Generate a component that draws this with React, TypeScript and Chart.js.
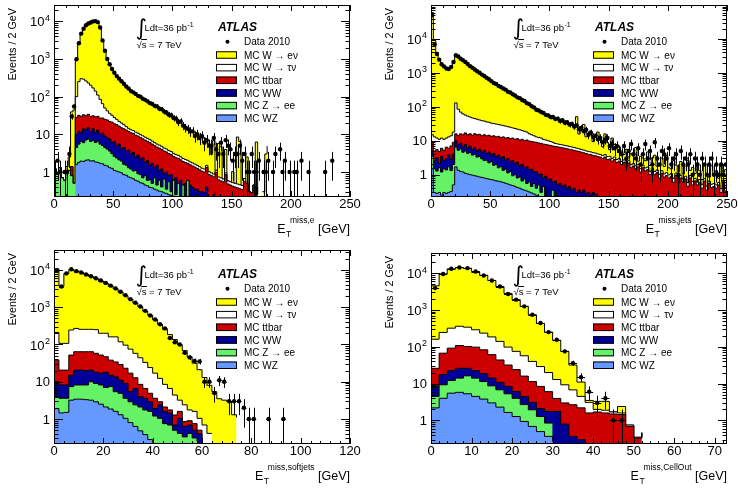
import { useEffect, useRef } from "react";
import { Chart, registerables } from "chart.js";

Chart.register(...registerables);

const FONT = '"Liberation Sans", Arial, Helvetica, sans-serif';

// ---- E_T^miss,e : 2 GeV bins from 0 to 250 GeV ----
const eleData = [1,2,1,0,1,1,3,30,55, 980,2600,4700,6300,7800,8700,9300,9900,10100,9500, 6800,3100,1650,1000,720,540,430,350,300,255, 220,185,165,140,130,118,105,100,88,82, 75,68,64,57,55,48,46,40,38,33, 32,27,26,21,22,17,15,14,12,12, 9,10,8,9,6,7,5,5,8,4, 3,6,3,7,5,4,2,3,3,5, 2,3,1,1,3,1,1,2,0,1, 1,2,0,1,3,0,4,1,2,0, 1,0,1,1,0,2,0,0,1,0, 0,0,0,0,0,1,0,0,2];
const eleWZ = [0,0,0,0,0,0,0,0,0, 1.6,1.8,1.95,1.9,2.05,2.1,1.95,2.0,1.85,1.8, 1.7,1.65,1.5,1.45,1.3,1.25,1.1,1.05,1.0,0.95, 0.85,0.82,0.74,0.7,0.66,0.6,0.57,0.52,0.5,0.45, 0.43,0.39,0.38,0.35,0.33,0.31,0.3,0.28,0.27,0.25, 0.24,0.23,0.22,0.21,0.2,0.2,0.19,0.18,0.17,0.16];
const eleZee = [1.2,0.9,1.3,0.7,0.6,0.9,1.1,0.8,0.5, 2.9,3.7,4.5,4.1,5.0,5.4,4.5,5.0,4.2,4.7, 3.8,3.4,3.0,2.6,2.3,1.8,1.5,1.3,1.1,1.0, 0.75,0.7,0.56,0.5,0.4,0.5,0.33,0.33,0.2,0.35, 0.17,0.23,0.12,0.35,0.12,0.29,0.1,0.37,0.08,0.3, 0.06,0.37,0.03,0.29,0,0.25,0,0.42,0.03,0.24, 0,0.35,0,0.3,0,0.4,0,0,0,0.3, 0,0,0,0.35,0,0,0,0,0,0, 0,0.25];
const eleWW = [0,0,0,0,0,0,0,0,0, 5.5,6.5,4.5,8,6,7.5,5.5,7,5,6.5, 4.5,6,4.5,4,3.9,3,3.9,2.6,3.4,2.2, 2.9,2.1,2.5,1.8,2.25,1.4,1.9,1.35,1.7,1.0, 1.4,0.88,1.2,0.6,1.05,0.5,0.8,0.25,0.65,0.25, 0.55,0,0.45,0,0.4,0,0.3,0,0.25,0, 0.35,0,0.3,0,0.28,0,0.3,0,0.25];
const eleTtbar = [0,0,0,0,0,0,0,0.6,0, 18,20,19,19,18,19,18,17,18,17, 17,16,16,16,14.5,15,12.5,13,11,10.8, 9.5,9.4,8.2,8,7.2,7,6.2,6,5.2,5.2, 4.5,4.5,3.8,3.7,3.1,3.2,2.8,2.7,2.4,2.3, 2.05,2.0,1.7,1.8,1.5,1.45,1.3,1.1,1.1,1.05, 1.0,0.9,0.85,0.75,0.72,0.92,0.55,0.8,0.49,0.68, 0.62,0.58,0.55,0.5,0.48,0.45,0.42,0.4,0.38,0.36, 0.34,0.32,0.5,0.3,0.28,0.45,0.25,0.4,0,0.3, 0,0.35,0,0,0.3];
const eleWtn = [0,0,0,0,0,0,0,0,0, 72,218,270,257,229,196,170,139,111,80, 58,38,25,18,14,11,9,7,5.5,5, 4,3,2.4,2.2,2,1.9,1.7,1.6,1.5,1.4, 1.3,1.2,1.1,1.0,0.9,0.85,0.8,0.72,0.68,0.62, 0.58,0.52,0.48,0.46,0.42,0.38,0.36,0.34,0.31,0.29, 0.27,0.25,0.23,0.21,0.2,0.18,0.17,0.15,0.14,0.13, 0.12,0.12,0.1,0.1,0.1,0.1,0.1,0.1,0.1,0.1, 0.1,0.1];
const eleWen = [0,0,0,0,0,0.5,1.4,38,44, 850,2350,4500,6110,7440,8370,9100,9630,9860,9490, 6915,2935,1550,958,664,498,392,315,268,230, 197,166,145,135,121,109,98,89,81,74, 68,63,58,53,49,45,41,37.5,34,30, 27.5,25,22,19,17.5,15.7,14,12.5,11,10.3, 9.4,8.5,8.1,7.2,6.8,4.8,4.5,2,6,0, 5,4,0,3,0,0,0.5,0,8,6, 0,0,2,0,0,0,6,0,0,0, 3,4.5,0,0,0,0,1.5,0,0,1.2, 0,0,1.2,0,0,0,0,0,0,0, 0,0,0,0,3.5,0,0,0,4];

// ---- E_T^miss,jets : 2 GeV bins from 0 to 250 GeV ----
const jetData = [50000,7000,3600,2450,1800,1550,1350,1300,1500,2100, 3300,3050,2600,2350,2100,1820,1580,1420,1260,1120, 1010,890,810,720,650,570,505,470,415,385, 345,320,280,265,235,215,190,180,158,148, 128,120,104,96,82,78,70,66,58,56, 50,50,44,45,38,40,34,35,30,31, 26,28,22,24,19,21,15,17,13,14, 11,12,9,11,12,7,8,6,7,5, 4,7,3,5,8,4,3,6,2,4, 8,3,5,2,9,3,2,5,4,3, 6,2,3,4,1,5,2,3,2,4, 1,3,2,1,3,2,1,2,3,1, 2,1,2,1,2];
const jetWZ = [1.5,0.3,0.28,0.3,0.25,0.3,0.28,0.3,0.32,0.5, 1.7,1.35,1.25,1.2,1.1,1.05,1.0,0.97,0.93,0.9, 0.86,0.83,0.8,0.77,0.74,0.72,0.69,0.66,0.64,0.62, 0.59,0.56,0.53,0.5,0.48,0.45,0.42,0.4,0.37,0.35, 0.33,0.31,0.29,0.27,0.25,0.23,0.22,0.2];
const jetZee = [2.0,1.2,1.0,1.3,0.95,1.2,1.1,1.4,1.0,1.5, 4.8,3.9,4.5,3.4,3.9,3.2,3.5,2.8,3.1,2.4, 2.6,2.1,1.8,1.9,1.5,1.7,1.2,1.35,0.95,1.1, 0.75,0.9,0.6,0.75,0.45,0.55,0.38,0.45,0.28,0.4, 0.22,0.3,0.16,0.28,0.15,0.27,0.08,0.25,0.2,0.4, 0,0.35,0.2,0.3,0,0.4,0,0.3,0,0.35, 0,0,0.3,0,0,0,0.25];
const jetWW = [1.5,1.0,1.9,0.6,2.3,1.1,1.6,2.1,1.5,2.0, 3.5,2.3,2.7,1.9,2.8,1.8,2.5,1.7,2.2,1.7, 2.1,1.7,2.6,1.5,2.4,1.4,2.3,1.4,2.2,1.4, 2.05,1.25,1.85,1.15,1.65,1.1,1.5,0.95,1.35,0.85, 1.15,0.8,1.0,0.65,0.85,0.5,0.75,0.35,0.7,0.3, 0.75,0.25,0.45,0.2,0.55,0.05,0.5,0.1,0.45,0, 0.4,0.3,0.05,0.3,0.35,0.28,0.05,0.25,0.3,0.25, 0.28];
const jetTtbar = [4,2.5,2.3,2.6,2.5,2.6,3.5,2.2,4.2,5, 6,6.5,7.5,8.5,9.2,9,9,9,9.8,10, 9.9,9.4,9.8,9.8,9.9,9.7,9.8,9.6,9.7,9.4, 9.6,9.3,9.5,9.1,9.4,8.9,9.2,8.7,9.0,8.4, 8.8,8.4,8.05,8.0,7.75,7.6,7.35,7.15,6.9,6.8, 6.55,6.4,6.15,6.1,5.85,5.75,5.5,5.4,5.15,5.05, 4.8,4.7,4.45,4.3,4.05,3.92,3.7,3.65,3.4,3.35, 3.12,3.3,3.0,3.3,2.8,2.9,2.5,2.8,2.3,2.5, 2.0,2.3,1.7,2.2,1.6,1.8,1.5,1.7,1.2,1.6, 1.3,1.4,1.0,1.35,1.0,1.15,0.8,1.1,0.85,0.95, 0.8,0.9,0.6,0.95,0.55,0.8,0.6,0.75,0.45,0.8, 0.5,0.65,0.5,0.6,0.4,0.65,0.35,0.55,0.42,0.45, 0.4,0.5,0.3,0.6,0.33];
const jetWtn = [6,8,6.5,6.2,6,5.8,5.5,7,7,9, 114,71,54,47,40,38,34,32.5,29,28, 25.5,25,23,22,20.5,19.5,18,18,16.5,16.5, 15,15,13.5,13.5,12,12,10.5,10.5,9,9, 7.5,6.2,5.5,4.8,4.0,3.9,3.6,3.0,2.7,2.5, 2.2,2.0,1.5,1.45,1.4,1.35,1.3,1.25,1.2,1.15, 1.1,1.05,1.0,0.95,0.9,0.85,0.8,0.78,0.74,0.72, 0.68,0.66,0.63,0.62,0.6,0.56,0.53,0.52,0.5,0.48, 0.44,0.42,0.4,0.38,0.36,0.34,0.33,0.31,0.3,0.29, 0.28,0.27,0.26,0.25,0.24,0.23,0.22,0.21,0.2,0.2, 0.19,0.18,0.18,0.17,0.16,0.16,0.15,0.15,0.14,0.14, 0.13,0.13,0.12,0.12,0.12,0.11,0.11,0.1,0.1,0.1, 0.1,0.09,0.09,0.09,0.09];
const jetWen = [59985,8987,3988,2389,1788,1489,1338,1287,1486,2182, 3170,2915,2530,2238,1993,1747,1550,1353,1205,1057, 959,861,762,684,605,527,478,429,390,351, 317,288,259,235,211,189,170,154,140,126, 112,101,90,80,71,63.5,58,53,48.5,45, 42.5,40,37.7,35,32.3,30.4,28.5,26.5,24.6,22.8, 21,45,10,15.9,25,8,11.8,15,5,8.6, 14,6.9,3,12,5.4,2,9,4.4,4.2,3.6, 2.5,1.2,3.5,0.8,2.2,1.5,4.5,0.5,2,1.2, 1,3,0.6,1.5,2.5,0.4,0.8,1.8,0.7,2.5, 0.6,0.4,1.8,0.8,0.5,1.5,0.3,0.9,2,0.4, 1,0.3,1.6,0.6,0.2,1.2,0.5,0.2,1.3,0.4, 0.8,0.2,1.4,0.5,1.0];

// ---- E_T^miss,softjets : 2 GeV bins from 0 to 120 GeV ----
const softData = [9500,3600,8100,10500,9300,8600,7600,6800,6000,5200, 4500,3800,3200,2600,2100,1650,1320,1050,800,600, 470,350,270,150,115,100,60,45,36,35, 10,10,5,11,10,3,3,3,2,1, 1,0,0,1,0,0,1];
const softWZ = [1.9,1.45,1.5,3.2,3.4,3.4,3.3,3.2,2.9,2.5, 2.1,1.85,1.6,1.3,1.04,0.8,0.63,0.48,0.38,0.28, 0.22];
const softZee = [2.1,2.15,2.1,4.2,4.8,4.8,4.9,6.8,6.1,5.7, 4.9,5.55,3.8,3.6,2.56,2.1,1.77,1.62,1.37,1.32, 0.98,1.04,0.75,0.69,0.5,0.41,0.33,0.41,0.31,0.25, 0,0,0,0,0,0,0,0,0,0, 0,0,0,0,0,0,0.33];
const softWW = [6,4.6,4.6,7.6,12.3,12.3,11.8,10.5,9,8.8, 11,7.6,8.2,6.1,5.4,2.5,4.2,1.9,1.85,1.3, 0.7,1.36,0.85,0.76,0.19,0.63,0.3,0.28,0.19,0.15, 0.25];
const softTtbar = [28,12.3,12.3,37,43.5,43.5,44,43.5,40,35, 29,23,20.4,18,14,11.6,6.2,4.5,3.0,2.0, 1.7,0.5,0.5,0.3,0.59,0.56,0.22,0.21,0.25,0.1, 0.05];
const softWtn = [172,86.5,86.5,193,206,191,191,191,192,148, 153,122,126,89,73,58,45,35.5,26.4,19.1, 13.4,9.4,6.4,4.85,3.1,1.6,1.55,0.85,0.85,0.54, 0.39,0.41,0.41,0,0,0,0.3,0,0,0.3];
const softWen = [10590,3593,7893,10055,9230,8445,7445,6545,5650,4900, 4200,3540,2940,2432,1954,1575,1242,976,757,586, 443,333,246,178,131,95,66,45,30,20, 12.3,7.6,5,3.5,3.2,3,1.0,1.1,0,0, 0,0,0,0,1.6];

// ---- E_T^miss,CellOut : 2 GeV bins from 0 to 74 GeV ----
const cellData = [3900,9400,13100,14200,13600,11000,8600,6300,4300,2700, 1900,1250,740,440,250,155,75,36,15,6, 3,4,1,1];
const cellWZ = [2.2,4.0,5.5,5.8,5.3,4.5,3.8,3.0,2.3,1.65, 1.28,0.94,0.69,0.5,0.37,0.27];
const cellZee = [2.3,5.3,6.7,8.3,11,9.6,7.6,5.7,4.5,3.65, 2.72,1.76,1.26,0.78,0.48,0.58];
const cellWW = [3.9,8.2,10.5,11.9,9.7,8.6,7.2,5.4,4.0,3.1, 2.1,1.8,1.15,0.82,0.91,0.91,0.8,0.37,0.3,0.25];
const cellTtbar = [17.6,49.5,69,82,76,75,64,47,33,23.6, 17.9,11.5,8.3,6.3,4.3,2.2,2.2,2.3,1.9,1.35, 1.7,1.6,1.5,1.45,0.69,0.33,0.45];
const cellWtn = [134,178,228,252,238,192,152,124,96,66, 51,41,28.6,20.6,13.9,9,6.3,4.1,2.3,1.5, 0.3,0.3,0.2,0.15,0.06,0.02,0.02];
const cellWen = [4340,9255,12680,13640,13160,10710,8465,6115,4160,2702, 1825,1193,700,401,230,137,65.7,25.2,6.5,0.4, 1.3,1.4,0,0.8];

// Stack order, bottom to top
const SAMPLE_COLORS = ["#6699ff", "#66f266", "#000099", "#cc0000", "#ffffff", "#ffff00"];

const LEGEND_ROWS = [
  { label: "MC W \u2192 e\u03bd", color: "#ffff00" },
  { label: "MC W \u2192 \u03c4\u03bd", color: "#ffffff" },
  { label: "MC ttbar", color: "#cc0000" },
  { label: "MC WW", color: "#000099" },
  { label: "MC Z \u2192 ee", color: "#66f266" },
  { label: "MC WZ", color: "#6699ff" },
];

type Panel = {
  data: number[];
  samples: number[][]; // WZ, Z->ee, WW, ttbar, W->tau nu, W->e nu
  nBins: number;
  binWidth: number;
  xMax: number;
  xMajor: number;
  xMinor: number;
  yMin: number;
  yMax: number;
  xSup: string;
  left: number;
  top: number;
  width: number;
  height: number;
  pad: { left: number; right: number; top: number; bottom: number };
  textDy: number;
};

const PANELS: Panel[] = [
  {
    data: eleData, samples: [eleWZ, eleZee, eleWW, eleTtbar, eleWtn, eleWen],
    nBins: 125, binWidth: 2, xMax: 250, xMajor: 50, xMinor: 10,
    yMin: 0.217, yMax: 2.7e4, xSup: "miss,e",
    left: 0, top: 0, width: 369, height: 245,
    pad: { left: 54, right: 19, top: 5, bottom: 48 }, textDy: 0,
  },
  {
    data: jetData, samples: [jetWZ, jetZee, jetWW, jetTtbar, jetWtn, jetWen],
    nBins: 125, binWidth: 2, xMax: 250, xMajor: 50, xMinor: 10,
    yMin: 0.22, yMax: 1.0e5, xSup: "miss,jets",
    left: 369, top: 0, width: 369, height: 245,
    pad: { left: 62, right: 11, top: 5, bottom: 48 }, textDy: 0,
  },
  {
    data: softData, samples: [softWZ, softZee, softWW, softTtbar, softWtn, softWen],
    nBins: 60, binWidth: 2, xMax: 120, xMajor: 20, xMinor: 4,
    yMin: 0.213, yMax: 3.44e4, xSup: "miss,softjets",
    left: 0, top: 245, width: 369, height: 244,
    pad: { left: 54, right: 19, top: 5, bottom: 45 }, textDy: 2,
  },
  {
    data: cellData, samples: [cellWZ, cellZee, cellWW, cellTtbar, cellWtn, cellWen],
    nBins: 37, binWidth: 2, xMax: 73, xMajor: 10, xMinor: 2,
    yMin: 0.23, yMax: 3.5e4, xSup: "miss,CellOut",
    left: 369, top: 245, width: 369, height: 244,
    pad: { left: 62, right: 11, top: 8, bottom: 45 }, textDy: 2,
  },
];

const font = (size: number, style = "") => `${style} ${size}px ${FONT}`.trim();

function decorations(p: Panel) {
  return {
    id: "rootStyle",
    afterDatasetsDraw(chart: any) {
      // Poisson error bars on the data points
      const ctx: CanvasRenderingContext2D = chart.ctx;
      const { left, right, top, bottom } = chart.chartArea;
      const xs = chart.scales.x;
      const ys = chart.scales.y;
      ctx.save();
      ctx.beginPath();
      ctx.rect(left, top, right - left, bottom - top);
      ctx.clip();
      ctx.strokeStyle = "#000";
      ctx.lineWidth = 1;
      ctx.beginPath();
      p.data.forEach((v, i) => {
        if (!(v > 0)) return;
        const err = Math.sqrt(v);
        const xc = Math.round(xs.getPixelForValue((i + 0.5) * p.binWidth)) + 0.5;
        const y = Math.round(ys.getPixelForValue(v)) + 0.5;
        const lo = v - err > 0 ? ys.getPixelForValue(v - err) : bottom + 2;
        const hi = ys.getPixelForValue(v + err);
        ctx.moveTo(xc, lo);
        ctx.lineTo(xc, hi);
        ctx.moveTo(xs.getPixelForValue(i * p.binWidth), y);
        ctx.lineTo(xs.getPixelForValue((i + 1) * p.binWidth), y);
      });
      ctx.stroke();
      ctx.restore();
    },
    afterDraw(chart: any) {
      const ctx: CanvasRenderingContext2D = chart.ctx;
      const { left, right, top, bottom } = chart.chartArea;
      const xs = chart.scales.x;
      const ys = chart.scales.y;
      ctx.save();
      ctx.strokeStyle = "#000";
      ctx.fillStyle = "#000";
      ctx.lineWidth = 1;

      // frame
      ctx.strokeRect(left + 0.5, top + 0.5, right - left - 1, bottom - top - 1);

      // inward ticks on all four sides
      ctx.beginPath();
      for (let k = 0; k * p.xMinor <= p.xMax + 1e-9; k++) {
        const v = k * p.xMinor;
        const major = Math.abs(v / p.xMajor - Math.round(v / p.xMajor)) < 1e-6;
        const len = major ? 6 : 3;
        const x = Math.round(xs.getPixelForValue(v)) + 0.5;
        ctx.moveTo(x, bottom);
        ctx.lineTo(x, bottom - len);
        ctx.moveTo(x, top);
        ctx.lineTo(x, top + len);
      }
      const dLo = Math.floor(Math.log10(p.yMin));
      const dHi = Math.ceil(Math.log10(p.yMax));
      for (let d = dLo; d <= dHi; d++) {
        for (let m = 1; m <= 9; m++) {
          const v = m * Math.pow(10, d);
          if (v < p.yMin || v > p.yMax) continue;
          const y = Math.round(ys.getPixelForValue(v)) + 0.5;
          const len = m === 1 ? 9 : 4.5;
          ctx.moveTo(left, y);
          ctx.lineTo(left + len, y);
          ctx.moveTo(right, y);
          ctx.lineTo(right - len, y);
        }
      }
      ctx.stroke();

      // x tick labels
      ctx.font = font(13);
      ctx.textAlign = "center";
      ctx.textBaseline = "alphabetic";
      for (let v = 0; v <= p.xMax + 1e-9; v += p.xMajor) {
        ctx.fillText(String(v), xs.getPixelForValue(v), bottom + 11);
      }

      // y tick labels (decades well inside the frame)
      ctx.textAlign = "right";
      for (let d = Math.ceil(Math.log10(p.yMin)); Math.pow(10, d) <= p.yMax * 0.9; d++) {
        const y = ys.getPixelForValue(Math.pow(10, d));
        const xr = left - 4;
        if (d < 2) {
          ctx.font = font(13);
          ctx.fillText(d === 0 ? "1" : "10", xr, y + 4.7);
        } else {
          ctx.font = font(9);
          const sw = ctx.measureText(String(d)).width;
          ctx.fillText(String(d), xr, y - 0.5);
          ctx.font = font(13);
          ctx.fillText("10", xr - sw - 0.5, y + 5.2);
        }
      }

      // x axis title: E_T^{miss,...} [GeV]
      const base = bottom + 36;
      ctx.textAlign = "left";
      ctx.font = font(12.5);
      const wE = ctx.measureText("E").width;
      const wRest = ctx.measureText(" [GeV]").width;
      ctx.font = font(8.5);
      const wSup = ctx.measureText(p.xSup).width;
      const x0 = right - (wE + 4.5 + wSup + wRest);
      ctx.font = font(12.5);
      ctx.fillText("E", x0, base);
      ctx.font = font(8.5);
      ctx.fillText("T", x0 + wE + 0.5, base + 3.5);
      ctx.fillText(p.xSup, x0 + wE + 4.5, base - 10);
      ctx.font = font(12.5);
      ctx.fillText(" [GeV]", x0 + wE + 4.5 + wSup, base);

      // y axis title
      ctx.save();
      ctx.translate(left - 41.3, top + 3);
      ctx.rotate(-Math.PI / 2);
      ctx.textAlign = "right";
      ctx.textBaseline = "middle";
      ctx.font = font(10.8);
      ctx.fillText("Events / 2 GeV", 0, 0);
      ctx.restore();

      // luminosity and energy
      const dy = p.textDy;
      const ix = left + 82.5;
      ctx.textAlign = "left";
      ctx.font = `22px "DejaVu Sans", ${FONT}`;
      ctx.fillText("\u222b", ix - 1, dy + 35);
      ctx.font = font(9.5);
      ctx.fillText("Ldt=36 pb", ix + 8, dy + 31.4);
      const wL = ctx.measureText("Ldt=36 pb").width;
      ctx.font = font(7);
      ctx.fillText("-1", ix + 8 + wL + 0.5, dy + 27);
      ctx.font = font(9.5);
      ctx.fillText("\u221a", ix, dy + 47.5);
      const wR = ctx.measureText("\u221a").width;
      const wS = ctx.measureText("s").width;
      ctx.fillText("s = 7 TeV", ix + wR, dy + 47.5);
      ctx.beginPath();
      ctx.moveTo(ix + wR - 0.5, dy + 39.5);
      ctx.lineTo(ix + wR + wS + 0.5, dy + 39.5);
      ctx.stroke();

      // ATLAS label and legend
      ctx.font = font(12, "italic bold");
      ctx.fillText("ATLAS", left + 164, dy + 30.7);
      const row0 = dy + 41.7;
      ctx.beginPath();
      ctx.arc(left + 173.5, row0, 2, 0, Math.PI * 2);
      ctx.fill();
      ctx.font = font(10);
      ctx.fillText("Data 2010", left + 190, row0 + 3.6);
      LEGEND_ROWS.forEach((r, k) => {
        const cy = row0 + 13.3 + k * 12.65;
        const bx = left + 162;
        ctx.fillStyle = r.color;
        ctx.fillRect(bx, cy - 3.75, 21, 7.5);
        ctx.strokeStyle = "#000";
        ctx.strokeRect(bx + 0.5, cy - 3.25, 20, 6.5);
        ctx.fillStyle = "#000";
        ctx.fillText(r.label, left + 190, cy + 3.6);
      });
      ctx.restore();
    },
  };
}

function buildConfig(p: Panel): any {
  const n = p.nBins;
  const cumulative: number[][] = [];
  let running = new Array(n).fill(0);
  for (const s of p.samples) {
    running = running.map((v, i) => v + (s[i] ?? 0));
    cumulative.push(running);
  }
  const mcSets = cumulative.map((vals, k) => ({
    data: [
      ...vals.map((v, i) => ({ x: i * p.binWidth, y: v })),
      { x: n * p.binWidth, y: vals[n - 1] },
    ],
    borderColor: "#000",
    borderWidth: 1,
    backgroundColor: SAMPLE_COLORS[k],
    fill: "start",
    stepped: "before",
    pointRadius: 0,
    tension: 0,
  }));
  const dataSet = {
    data: p.data
      .map((v, i) => (v > 0 ? { x: (i + 0.5) * p.binWidth, y: v } : null))
      .filter((d) => d !== null),
    showLine: false,
    pointRadius: 2.2,
    pointBackgroundColor: "#000",
    pointBorderWidth: 0,
    pointBorderColor: "#000",
  };
  return {
    type: "line",
    data: { datasets: [dataSet, ...mcSets] },
    options: {
      animation: false,
      responsive: false,
      maintainAspectRatio: false,
      devicePixelRatio: 1,
      events: [],
      layout: { padding: p.pad },
      plugins: { legend: { display: false }, tooltip: { enabled: false } },
      scales: {
        x: { type: "linear", min: 0, max: p.xMax, bounds: "data", display: false },
        y: { type: "logarithmic", min: p.yMin, max: p.yMax, bounds: "data", display: false },
      },
    },
    plugins: [decorations(p)],
  };
}

function HistPanel({ spec }: { spec: Panel }) {
  const ref = useRef<HTMLCanvasElement>(null);
  useEffect(() => {
    const chart = new Chart(ref.current as HTMLCanvasElement, buildConfig(spec));
    return () => chart.destroy();
  }, [spec]);
  return (
    <canvas
      ref={ref}
      width={spec.width}
      height={spec.height}
      style={{ position: "absolute", left: spec.left, top: spec.top, width: spec.width, height: spec.height }}
    />
  );
}

export default function App() {
  return (
    <div style={{ position: "absolute", left: 0, top: 0, width: 738, height: 489, background: "#fff", overflow: "hidden" }}>
      {PANELS.map((p, i) => (
        <HistPanel key={i} spec={p} />
      ))}
    </div>
  );
}
